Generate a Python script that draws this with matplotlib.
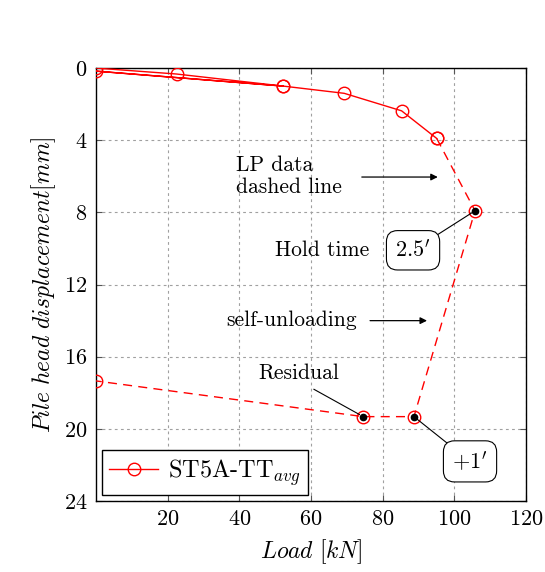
import matplotlib
matplotlib.use("Agg")
import matplotlib.pyplot as plt

plt.rcParams["font.family"] = "serif"
plt.rcParams["font.serif"] = ["cmr10", "DejaVu Serif"]
plt.rcParams["mathtext.fontset"] = "cm"
plt.rcParams["axes.formatter.use_mathtext"] = True

# Loading branch (LVDT readings, solid line)
load_solid = [0.0, 22.5, 52.3, 0.0, 52.3, 69.3, 85.3, 95.1]
disp_solid = [0.0, 0.33, 1.0, 0.17, 1.0, 1.4, 2.37, 3.9]

# LP data branch (dashed line): hold, self-unloading, residual
load_dash = [95.1, 105.8, 88.75, 74.6, 0.0]
disp_dash = [3.9, 7.91, 19.32, 19.32, 17.34]

# Points marked with a filled dot
load_hold = [105.8, 88.75, 74.6]
disp_hold = [7.91, 19.32, 19.32]

x_ticks = [20, 40, 60, 80, 100, 120]
y_ticks = [0, 4, 8, 12, 16, 20, 24]

fig = plt.figure(figsize=(5.45, 5.72), dpi=100)
ax = fig.add_axes([0.176, 0.124, 0.789, 0.757])

red = "#ff0000"
ax.plot(load_solid, disp_solid, color=red, lw=1.0, marker="o", ms=9,
        mfc="none", mec=red, mew=1.0, label=r"ST5A-TT$_{avg}$", zorder=3)
ax.plot(load_dash, disp_dash, color=red, lw=1.0, marker="o", ms=9,
        mfc="none", mec=red, mew=1.0, dashes=(6.5, 4.5), zorder=3)
ax.plot(load_hold, disp_hold, ls="none", marker="o", ms=4.5,
        color="black", zorder=4)

ax.set_xlim(0, 120)
ax.set_ylim(24, 0)
ax.set_xticks(x_ticks)
ax.set_yticks(y_ticks)
ax.tick_params(direction="in", top=True, right=True, labelsize=16,
               length=4, color="#555555", pad=6)
ax.grid(True, color="#a0a0a0", ls=(0, (2.5, 3)), lw=0.8)
for s in ax.spines.values():
    s.set_linewidth(1.0)

ax.set_xlabel(r"$Load\ [kN]$", fontsize=17, labelpad=6)
ax.set_ylabel(r"$Pile\ head\ displacement [mm]$", fontsize=17, labelpad=4)

txt = 15.5
arrow = dict(arrowstyle="-|>", color="black", lw=0.9, mutation_scale=10,
             shrinkA=0, shrinkB=0)

ax.text(39, 6.0, "LP data\ndashed line", fontsize=txt, ha="left",
        va="center", linespacing=1.2)
ax.annotate("", xy=(95.4, 6.04), xytext=(74.2, 6.04), arrowprops=arrow)

ax.text(63, 10.1, "Hold time", fontsize=txt, ha="center", va="center")
ax.annotate(r"$2.5'$", xy=(105.8, 7.91), xytext=(88.5, 10.1),
            fontsize=16, ha="center", va="center",
            bbox=dict(boxstyle="round,pad=0.4,rounding_size=0.5",
                      fc="white", ec="black", lw=0.8),
            arrowprops=dict(arrowstyle="-", color="black", lw=0.8,
                            shrinkA=0, shrinkB=3))

ax.text(54.7, 14.0, "self-unloading", fontsize=txt, ha="center",
        va="center")
ax.annotate("", xy=(92.4, 14.0), xytext=(76.5, 14.0), arrowprops=arrow)

ax.text(56.7, 16.9, "Residual", fontsize=txt, ha="center", va="center")
ax.annotate("", xy=(74.6, 19.32), xytext=(60.8, 17.8),
            arrowprops=dict(arrowstyle="-", color="black", lw=0.8,
                            shrinkA=0, shrinkB=3))

ax.annotate(r"$+1'$", xy=(88.75, 19.32), xytext=(104.4, 21.8),
            fontsize=16, ha="center", va="center",
            bbox=dict(boxstyle="round,pad=0.4,rounding_size=0.5",
                      fc="white", ec="black", lw=0.8),
            arrowprops=dict(arrowstyle="-", color="black", lw=0.8,
                            shrinkA=0, shrinkB=3))

leg = ax.legend(loc="lower left", fontsize=17.5, fancybox=False,
                edgecolor="black", framealpha=1, handlelength=2.0,
                borderaxespad=0.25, borderpad=0.3, handletextpad=0.4)
leg.get_frame().set_linewidth(1.0)

fig.savefig("out.png", dpi=100)
